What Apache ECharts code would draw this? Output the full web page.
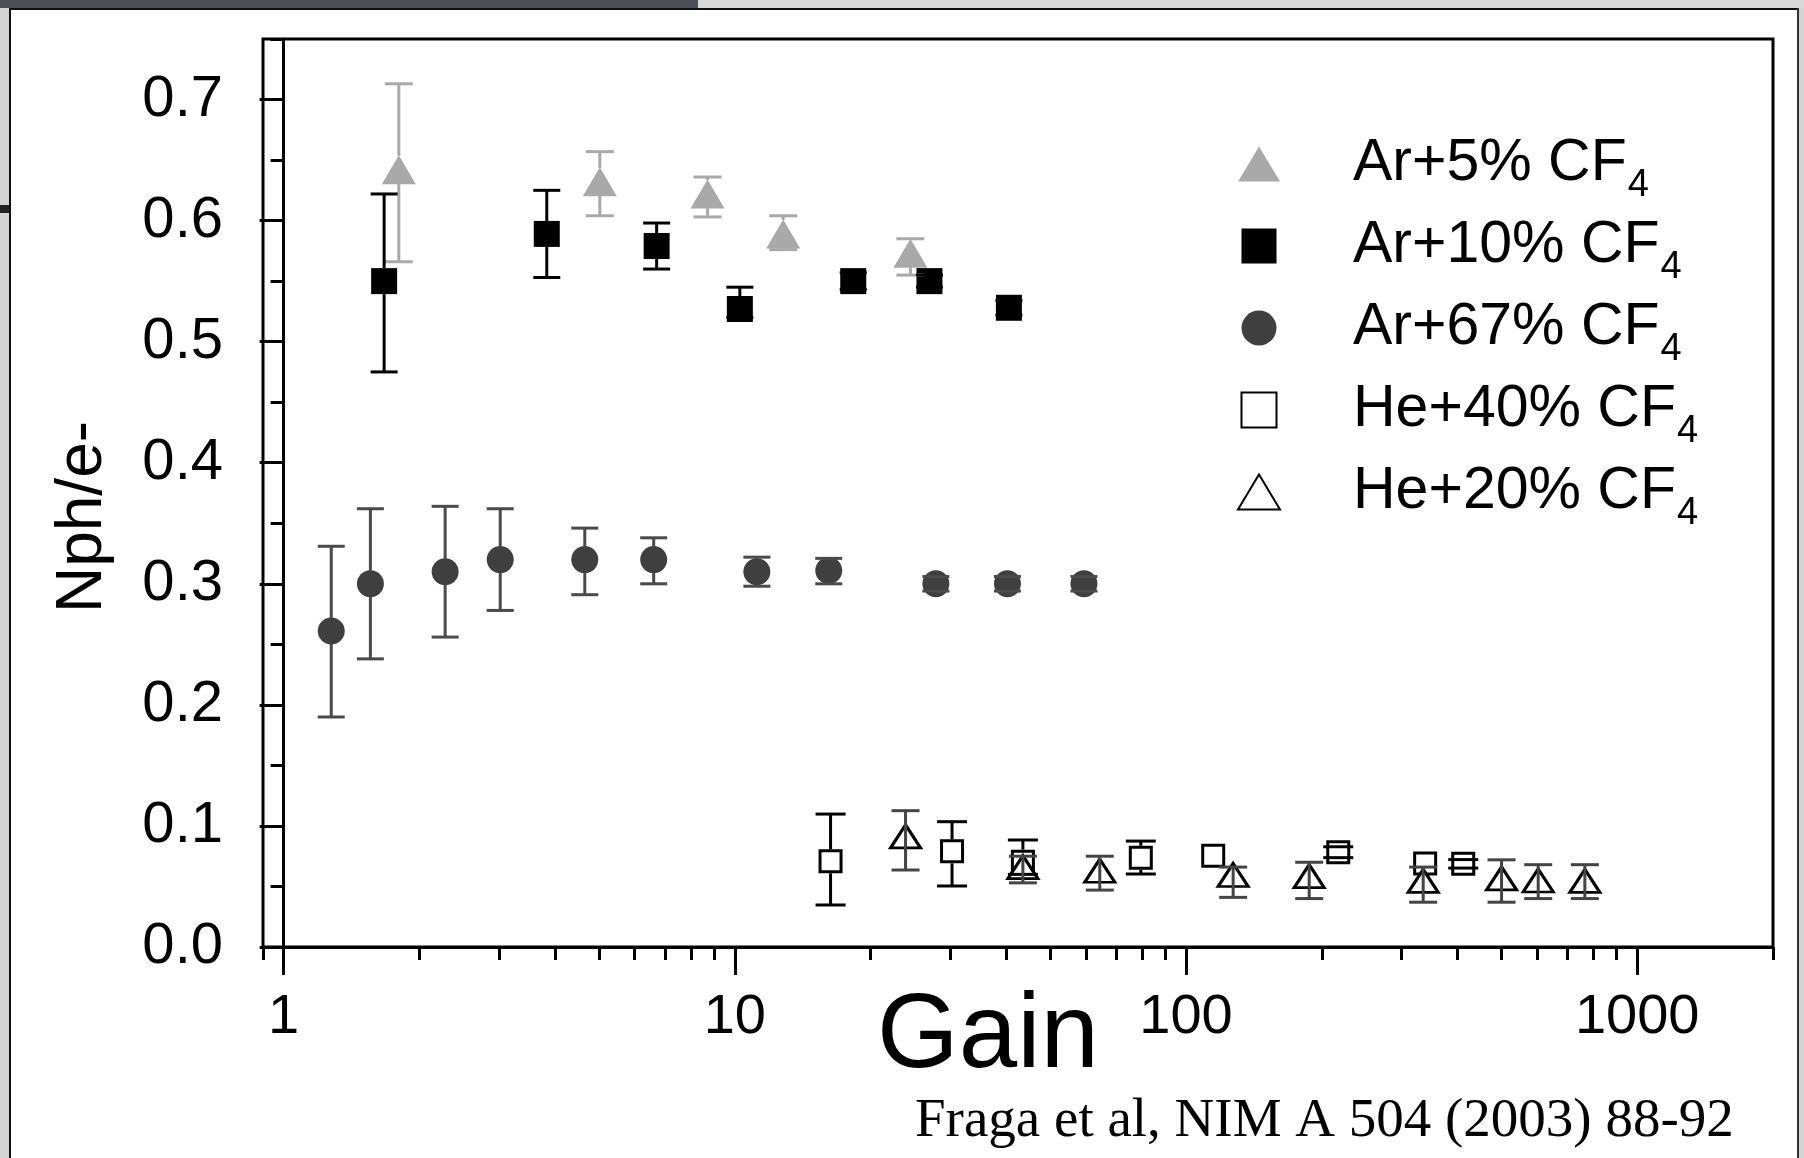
<!DOCTYPE html>
<html><head><meta charset="utf-8">
<script src="https://cdn.jsdelivr.net/npm/echarts@6/dist/echarts.min.js"></script>
<style>
html,body{margin:0;padding:0;background:#fff;width:1804px;height:1158px;overflow:hidden}
#chart{position:absolute;left:0;top:0;width:1804px;height:1158px;z-index:2}
.d{position:absolute;z-index:1}
</style></head><body>
<div class="d" style="left:0;top:0;width:698px;height:8px;background:#4b4f56"></div>
<div class="d" style="left:698px;top:0;width:1106px;height:8px;background:#d9d9d9"></div>
<div class="d" style="left:9px;top:8px;width:1790px;height:2px;background:#111"></div>
<div class="d" style="left:0;top:8px;width:9px;height:1150px;background:#d4d4d4"></div>
<div class="d" style="left:0;top:205px;width:9px;height:8px;background:#222"></div>
<div class="d" style="left:9px;top:8px;width:2px;height:1150px;background:#111"></div>
<div class="d" style="left:1797px;top:8px;width:2px;height:1150px;background:#333"></div>
<div class="d" style="left:1799px;top:8px;width:5px;height:1150px;background:#d4d4d4"></div>
<div id="chart"></div>
<script>
// ---- data ----
const ar5Gain = [1.80, 5.02, 8.70, 12.8, 24.5];
const ar5Nph  = [0.642, 0.632, 0.622, 0.589, 0.573];
const ar5Lo   = [0.566, 0.604, 0.603, 0.576, 0.555];
const ar5Hi   = [0.713, 0.657, 0.636, 0.604, 0.585];

const ar10Gain = [1.67, 3.83, 6.71, 10.26, 18.3, 27.0, 40.5];
const ar10Nph  = [0.550, 0.589, 0.579, 0.527, 0.550, 0.550, 0.528];
const ar10Lo   = [0.475, 0.553, 0.560, 0.520, 0.543, 0.545, 0.522];
const ar10Hi   = [0.622, 0.625, 0.598, 0.545, 0.557, 0.555, 0.534];

const ar67Gain = [1.275, 1.557, 2.28, 3.02, 4.65, 6.61, 11.19, 16.15, 27.9, 40.2, 59.4];
const ar67Nph  = [0.261, 0.300, 0.310, 0.320, 0.320, 0.320, 0.310, 0.311, 0.300, 0.300, 0.300];
const ar67Lo   = [0.190, 0.238, 0.256, 0.278, 0.291, 0.300, 0.298, 0.300, 0.294, 0.294, 0.294];
const ar67Hi   = [0.331, 0.362, 0.364, 0.362, 0.346, 0.338, 0.322, 0.321, 0.306, 0.306, 0.306];

const he40Gain = [16.3, 30.3, 43.5, 79.4, 114.9, 217.5, 338.9, 411.6];
const he40Nph  = [0.0708, 0.079, 0.0705, 0.0737, 0.0753, 0.0783, 0.069, 0.0687];
const he40Lo   = [0.0347, 0.0504, 0.060, 0.0603, null, 0.0738, null, 0.0652];
const he40Hi   = [0.1098, 0.1035, 0.0884, 0.0875, null, 0.0828, null, 0.0722];

const he20Gain = [23.9, 43.5, 64.4, 127.2, 187.5, 335.5, 500.5, 603.4, 765.6];
const he20Nph  = [0.0914, 0.066, 0.063, 0.0595, 0.0585, 0.0546, 0.0567, 0.0549, 0.0546];
const he20Lo   = [0.0636, 0.053, 0.047, 0.041, 0.040, 0.037, 0.037, 0.040, 0.040];
const he20Hi   = [0.1126, 0.075, 0.075, 0.066, 0.070, 0.066, 0.072, 0.068, 0.068];

const seriesNames = ['Ar+5% CF4', 'Ar+10% CF4', 'Ar+67% CF4', 'He+40% CF4', 'He+20% CF4'];

// ---- axis ticks / labels ----
const xMajorTicks = [1, 10, 100, 1000];
const xMinorTicks = [0.9, 2, 3, 4, 5, 6, 7, 8, 9, 20, 30, 40, 50, 60, 70, 80, 90,
                     200, 300, 400, 500, 600, 700, 800, 900, 2000];
const yMajorTicks = [0, 0.1, 0.2, 0.3, 0.4, 0.5, 0.6, 0.7];
const yMinorTicks = [0.05, 0.15, 0.25, 0.35, 0.45, 0.55, 0.65, 0.75];
const xMin = 0.9, xMax = 2000, yMin = 0, yMax = 0.75;

const SANS = '"Liberation Sans", Arial, Helvetica, sans-serif';
const zip2 = (a, b) => a.map((v, i) => [v, b[i]]);
const zipErr = (g, lo, hi, y) => g.map((v, i) => [v, lo[i], hi[i], y[i]]).filter(d => d[1] != null);

function errRender(half, skip, color, capW) {
  return function (params, api) {
    const x = api.value(0), lo = api.value(1), hi = api.value(2), yc = api.value(3);
    const pLo = api.coord([x, lo]), pHi = api.coord([x, hi]), pC = api.coord([x, yc]);
    const st = { stroke: color, lineWidth: 3 };
    const ch = [];
    const cx = pC[0];
    if (skip) {
      if (pHi[1] < pC[1] - half) ch.push({ type: 'line', shape: { x1: cx, y1: pHi[1], x2: cx, y2: pC[1] - half }, style: st });
      if (pLo[1] > pC[1] + half) ch.push({ type: 'line', shape: { x1: cx, y1: pC[1] + half, x2: cx, y2: pLo[1] }, style: st });
    } else {
      ch.push({ type: 'line', shape: { x1: cx, y1: pHi[1], x2: cx, y2: pLo[1] }, style: st });
    }
    ch.push({ type: 'line', shape: { x1: cx - capW / 2, y1: pHi[1], x2: cx + capW / 2, y2: pHi[1] }, style: st });
    ch.push({ type: 'line', shape: { x1: cx - capW / 2, y1: pLo[1], x2: cx + capW / 2, y2: pLo[1] }, style: st });
    return { type: 'group', children: ch };
  };
}

const GRAY = '#a9a9a9', DARK = '#3f3f3f';
const openStyle = { color: '#fff', borderColor: '#000', borderWidth: 3, opacity: 1 };

const chart = echarts.init(document.getElementById('chart'), null, { renderer: 'canvas' });
chart.setOption({
  animation: false,
  backgroundColor: 'transparent',
  grid: { left: 263, right: 31, top: 39, bottom: 211, show: true, borderColor: '#000', borderWidth: 3,
          backgroundColor: 'transparent', containLabel: false, outerBoundsMode: 'none' },
  legend: {
    orient: 'vertical', left: 1237, top: 123, padding: 0, itemGap: 0,
    itemWidth: 42, itemHeight: 35, selectedMode: false,
    data: [
      { name: seriesNames[0], icon: 'triangle' },
      { name: seriesNames[1], icon: 'path://M0,0H10V10H0Z' },
      { name: seriesNames[2], icon: 'path://M0,5A5,5,0,1,1,10,5A5,5,0,1,1,0,5Z' },
      { name: seriesNames[3], icon: 'path://M0,0H10V10H0Z' },
      { name: seriesNames[4], icon: 'triangle' }
    ],
    formatter: n => '{m|' + n.replace(/4$/, '') + '}{s|4}',
    textStyle: {
      color: '#000', fontFamily: SANS,
      rich: {
        m: { fontSize: 59, lineHeight: 59, padding: [8, 0, 9, 68], color: '#000', fontFamily: SANS },
        s: { fontSize: 38, lineHeight: 32, padding: [44, 0, 0, 1], color: '#000', fontFamily: SANS }
      }
    }
  },
  xAxis: [
    { type: 'log', logBase: 10, min: xMin, max: xMax, position: 'bottom',
      axisLine: { show: true, lineStyle: { color: '#000', width: 3 } },
      axisTick: { show: false }, axisLabel: { show: false }, splitLine: { show: false } },
    { type: 'value', min: Math.log10(xMin), max: Math.log10(xMax), position: 'bottom',
      axisLine: { show: false }, splitLine: { show: false },
      axisTick: { show: true, inside: false, length: 28, lineStyle: { color: '#000', width: 3 },
                  customValues: xMajorTicks.map(Math.log10) },
      axisLabel: { show: true, margin: 43, fontSize: 56, color: '#000', fontFamily: SANS,
                   customValues: xMajorTicks.map(Math.log10),
                   formatter: v => String(Math.round(Math.pow(10, v))) },
      name: 'Gain', nameLocation: 'middle', nameGap: 39, nameMoveOverlap: false,
      nameTextStyle: { fontSize: 105, color: '#000', fontFamily: SANS, padding: [0, 60, 0, 0] } },
    { type: 'value', min: Math.log10(xMin), max: Math.log10(xMax), position: 'bottom',
      axisLine: { show: false }, splitLine: { show: false }, axisLabel: { show: false },
      axisTick: { show: true, inside: false, length: 13, lineStyle: { color: '#000', width: 3 },
                  customValues: xMinorTicks.map(Math.log10) } }
  ],
  yAxis: [
    { type: 'value', min: yMin, max: yMax, position: 'left',
      axisLine: { show: true, lineStyle: { color: '#000', width: 3 } }, splitLine: { show: false },
      axisTick: { show: true, inside: false, length: 24, lineStyle: { color: '#000', width: 3 },
                  customValues: yMajorTicks },
      axisLabel: { show: true, margin: 40, fontSize: 58, color: '#000', fontFamily: SANS,
                   customValues: yMajorTicks, formatter: v => v.toFixed(1) },
      name: 'Nph/e-', nameLocation: 'middle', nameGap: 148, nameMoveOverlap: false,
      nameTextStyle: { fontSize: 64, color: '#000', fontFamily: SANS, padding: [0, 48, 0, 0] } },
    { type: 'value', min: yMin, max: yMax, position: 'left',
      axisLine: { show: false }, splitLine: { show: false }, axisLabel: { show: false },
      axisTick: { show: true, inside: false, length: 13, lineStyle: { color: '#000', width: 3 },
                  customValues: yMinorTicks } }
  ],
  graphic: [
    { type: 'text', x: 915, y: 1122, silent: true,
      style: { text: 'Fraga et al, NIM A 504 (2003) 88-92', font: '55px "Liberation Serif", "Times New Roman", serif',
               fill: '#000', verticalAlign: 'middle', align: 'left' } }
  ],
  series: [
    { name: seriesNames[0], type: 'scatter', symbol: 'triangle', symbolSize: [34, 29], z: 2,
      itemStyle: { color: GRAY, opacity: 1 }, data: zip2(ar5Gain, ar5Nph) },
    { name: seriesNames[1], type: 'scatter', symbol: 'rect', symbolSize: 26, z: 2,
      itemStyle: { color: '#000', opacity: 1 }, data: zip2(ar10Gain, ar10Nph) },
    { name: seriesNames[2], type: 'scatter', symbol: 'circle', symbolSize: 27, z: 2,
      itemStyle: { color: DARK, opacity: 1 }, data: zip2(ar67Gain, ar67Nph) },
    { name: seriesNames[3], type: 'scatter', symbol: 'rect', symbolSize: 21, z: 2,
      itemStyle: openStyle, data: zip2(he40Gain, he40Nph) },
    { name: seriesNames[4], type: 'scatter', symbol: 'triangle', symbolSize: [30, 23], z: 2,
      itemStyle: openStyle, data: zip2(he20Gain, he20Nph) },

    { name: 'err5', type: 'custom', z: 3, silent: true, encode: { x: 0, y: [1, 2, 3] },
      renderItem: errRender(14, true, GRAY, 28), data: zipErr(ar5Gain, ar5Lo, ar5Hi, ar5Nph) },
    { name: 'err10', type: 'custom', z: 3, silent: true, encode: { x: 0, y: [1, 2, 3] },
      renderItem: errRender(13, true, '#000', 27), data: zipErr(ar10Gain, ar10Lo, ar10Hi, ar10Nph) },
    { name: 'err67', type: 'custom', z: 3, silent: true, encode: { x: 0, y: [1, 2, 3] },
      renderItem: errRender(13, true, '#4a4a4a', 27), data: zipErr(ar67Gain, ar67Lo, ar67Hi, ar67Nph) },
    { name: 'errHe40', type: 'custom', z: 3, silent: true, encode: { x: 0, y: [1, 2, 3] },
      renderItem: errRender(12, true, '#000', 30), data: zipErr(he40Gain, he40Lo, he40Hi, he40Nph) },
    { name: 'errHe20', type: 'custom', z: 3, silent: true, encode: { x: 0, y: [1, 2, 3] },
      renderItem: errRender(0, false, '#444', 28), data: zipErr(he20Gain, he20Lo, he20Hi, he20Nph) }
  ]
});
</script>
</body></html>
